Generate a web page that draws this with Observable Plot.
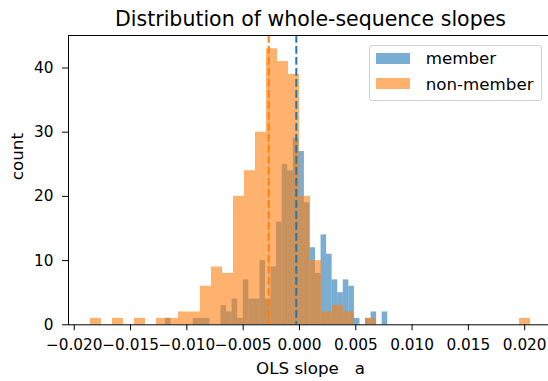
<!DOCTYPE html>
<html><head><meta charset="utf-8">
<script src="https://cdn.jsdelivr.net/npm/d3@7"></script>
<script src="https://cdn.jsdelivr.net/npm/@observablehq/plot@0.6"></script>
<style>
body{margin:0;background:#fff;font-family:"DejaVu Sans",sans-serif;}
#wrap{position:relative;width:548px;height:381px;overflow:hidden;}
#wrap svg text{white-space:pre;}
.legend{position:absolute;left:369px;top:45px;width:173px;height:56px;border:1px solid #d0d0d0;border-radius:3px;background:rgba(255,255,255,0.8);box-sizing:border-box;}
.sw{position:absolute;width:34px;height:11.5px;}
.lt{position:absolute;font-size:16.7px;line-height:16.7px;color:#000;white-space:nowrap;}
</style></head><body><div id="wrap"></div>
<script>
const title = "Distribution of whole-sequence slopes";
const xLabel = "OLS slope   a";
const yLabel = "count";
const seriesNames = ["member", "non-member"];
const seriesColors = ["#1f77b4", "#ff7f0e"];
// histogram ranges (first left edge, last right edge) and counts per bin
const memberRange = [-0.01190, 0.00784];
const memberCounts = [1,0,0,0,0,1,1,1,0,0,3,2,4,1,7,4,4,10,4,9,16,25,24,29,27,19,12,8,14,11,7,5,7,6,1,0,1,2,0,2];
const nonMemberRange = [-0.01856, 0.02052];
const nonMemberCounts = [1,0,1,0,1,0,1,1,2,2,6,9,8,20,24,30,43,41,39,20,10,2,3,2,0,1,0,0,0,0,0,0,0,0,0,0,0,0,0,1];
const meanSlopes = [-0.00028, -0.00273];
const xTicks = [-0.020, -0.015, -0.010, -0.005, 0.000, 0.005, 0.010, 0.015, 0.020];
const yTicks = [0, 10, 20, 30, 40];

function toBins(range, counts) {
  const w = (range[1] - range[0]) / counts.length;
  return counts.map((c, i) => ({x1: range[0] + i * w, x2: range[0] + (i + 1) * w, count: c})).filter(d => d.count > 0);
}
const memberBins = toBins(memberRange, memberCounts);
const nonMemberBins = toBins(nonMemberRange, nonMemberCounts);

const chart = Plot.plot({
  width: 548, height: 381,
  marginLeft: 68, marginRight: -4, marginTop: 35, marginBottom: 56.7,
  style: {fontFamily: "DejaVu Sans, sans-serif", fontSize: "15.3px", color: "#000", background: "transparent"},
  x: {domain: [-0.02051, 0.02247], axis: null},
  y: {domain: [0, 45.06], axis: null},
  marks: [
    Plot.rectY(memberBins, {x1: "x1", x2: "x2", y: "count", fill: seriesColors[0], fillOpacity: 0.6, inset: 0}),
    Plot.rectY(nonMemberBins, {x1: "x1", x2: "x2", y: "count", fill: seriesColors[1], fillOpacity: 0.6, inset: 0}),
    Plot.ruleX([meanSlopes[0]], {x: d => d, stroke: seriesColors[0], strokeWidth: 2, strokeDasharray: "7.7,3.3"}),
    Plot.ruleX([meanSlopes[1]], {x: d => d, stroke: seriesColors[1], strokeWidth: 2, strokeDasharray: "7.7,3.3"}),
    Plot.frame({stroke: "#000", strokeWidth: 1}),
    Plot.axisX(xTicks, {tickSize: 6, tickPadding: 8.8, tickFormat: d3.format(".3f"), label: null, stroke: "#000", fill: "#000", fontSize: 15.3}),
    Plot.axisY(yTicks, {tickSize: 6, tickPadding: 9, label: null, stroke: "#000", fill: "#000", fontSize: 15.3}),
    Plot.text([title], {frameAnchor: "top", dy: -16.4, text: d => d, fontSize: 20.5, fill: "#000", lineAnchor: "middle"}),
    Plot.text([xLabel], {frameAnchor: "bottom", dy: 43.7, text: d => d, fontSize: 16.7, fill: "#000", lineAnchor: "middle"}),
    Plot.text([yLabel], {frameAnchor: "left", dx: -50.5, text: d => d, rotate: -90, fontSize: 16.7, fill: "#000", lineAnchor: "middle"})
  ]
});
const wrap = document.getElementById("wrap");
wrap.appendChild(chart);

// legend
const legend = document.createElement("div");
legend.className = "legend";
wrap.appendChild(legend);
const swTops = [52.7, 77.7];
const textTops = [50.4, 76.4];
seriesNames.forEach((name, i) => {
  const sw = document.createElement("div");
  sw.className = "sw";
  sw.style.left = "376px";
  sw.style.top = swTops[i] + "px";
  sw.style.background = seriesColors[i];
  sw.style.opacity = 0.6;
  wrap.appendChild(sw);
  const t = document.createElement("div");
  t.className = "lt";
  t.style.left = "425.7px";
  t.style.top = textTops[i] + "px";
  t.textContent = name;
  wrap.appendChild(t);
});
</script></body></html>
